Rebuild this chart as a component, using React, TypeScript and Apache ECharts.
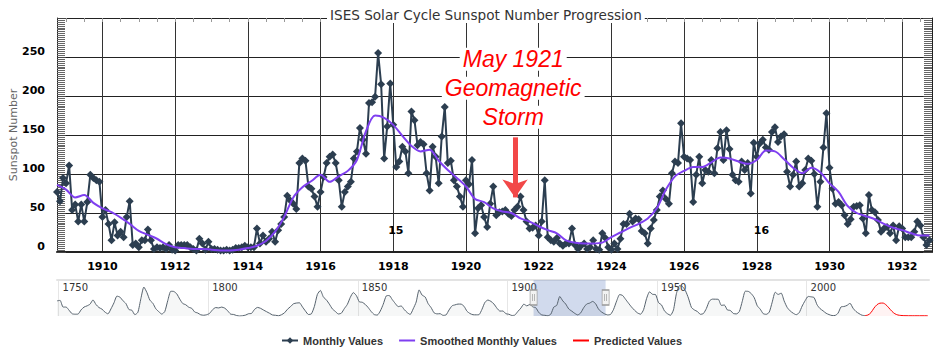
import React, { useEffect, useRef } from "react";
import * as echarts from "echarts";

// ---------- data ----------
const chartTitle = "ISES Solar Cycle Sunspot Number Progression";
const firstMonth = 1908.75; // October 1908, one value per month

// Monthly sunspot numbers, Oct 1908 .. Oct 1932
const monthlyValues = [
  77, 65, 95,
  88, 111, 54, 61, 39, 61, 39, 64, 99, 95, 92, 90,
  45, 54, 36, 15, 38, 21, 26, 19, 45, 65, 9, 11,
  6, 15, 15, 29, 15, 4, 6, 5, 6, 4, 9, 3,
  2, 9, 9, 9, 9, 6, 4, 2, 17, 11, 3, 13,
  4, 4, 3, 2, 2, 3, 2, 3, 5, 5, 6, 8,
  6, 6, 6, 30, 11, 21, 13, 17, 26, 13, 28, 36,
  45, 72, 66, 62, 55, 114, 120, 117, 84, 81, 71, 58,
  77, 96, 114, 122, 125, 114, 92, 58, 77, 84, 90, 120,
  129, 159, 144, 126, 191, 192, 199, 255, 215, 120, 161, 216,
  163, 109, 116, 135, 129, 101, 180, 169, 137, 141, 138, 101,
  79, 135, 122, 88, 148, 186, 114, 117, 92, 84, 71, 58,
  92, 87, 118, 24, 56, 60, 45, 32, 62, 84, 47, 51,
  52, 54, 49, 46, 54, 58, 71, 54, 39, 30, 31, 34,
  21, 39, 92, 19, 15, 13, 18, 11, 8, 11, 11, 30,
  9, 4, 8, 11, 4, 6, 15, 4, 3, 24, 18, 6,
  3, 11, 4, 17, 36, 36, 49, 39, 43, 42, 27, 24,
  11, 30, 41, 54, 71, 79, 68, 62, 101, 116, 114, 165,
  122, 120, 118, 64, 99, 122, 88, 105, 103, 118, 101, 133,
  154, 118, 156, 132, 99, 92, 90, 116, 105, 114, 75, 140,
  122, 139, 144, 134, 131, 154, 160, 141, 148, 151, 103, 84,
  99, 116, 84, 88, 105, 120, 117, 100, 58, 90, 134, 178,
  108, 81, 62, 64, 60, 47, 36, 42, 58, 59, 60, 43,
  24, 73, 54, 51, 41, 26, 30, 32, 24, 34, 15, 33,
  30, 19, 19, 19, 26, 39, 34, 19, 9, 15,
];

// Smoothed monthly values, read every 3 months from Oct 1908
const smoothedValues = [
  86,
  80, 70, 73, 63,
  56, 51, 44, 36,
  27, 22, 17, 10,
  6, 5, 4, 4,
  3, 2, 2, 3,
  5, 8, 14, 26,
  45, 70, 83, 91,
  99, 90, 97, 104,
  118, 155, 175, 172,
  163, 149, 136, 129,
  131, 117, 105, 95,
  84, 68, 64, 56,
  52, 50, 43, 39,
  33, 28, 24, 15,
  12, 11, 11, 12,
  19, 25, 31, 36,
  43, 56, 80, 97,
  104, 109, 109, 115,
  121, 120, 116, 113,
  118, 130, 129, 119,
  108, 101, 108, 102,
  88, 77, 59, 50,
  46, 42, 36, 31,
  28, 24, 21, 21,
];

const xTickYears = [1910, 1912, 1914, 1916, 1918, 1920, 1922, 1924, 1926, 1928, 1930, 1932];
const cycleLabels = [
  { text: "15", year: 1918.07, value: 28 },
  { text: "16", year: 1928.13, value: 28 },
];
const stormDate = 1921.35;
const stormText = ["May 1921", "Geomagnetic", "Storm"];

// Navigator: yearly sunspot numbers 1749..2019
const navFirstYear = 1749;
const navYearly = [
  134.7, 139.0, 79.5, 79.7, 51.2, 20.3, 16.0, 17.0, 54.0, 79.3, 90.0,
  104.8, 143.2, 102.0, 75.2, 60.7, 34.8, 19.0, 63.0, 116.3, 176.8,
  168.0, 136.0, 110.8, 58.0, 51.0, 11.7, 33.0, 154.2, 257.3, 209.8,
  141.3, 113.5, 64.2, 38.0, 17.0, 40.2, 138.2, 220.0, 218.2, 196.8,
  149.8, 111.0, 100.0, 78.2, 68.3, 35.5, 26.7, 10.7, 6.8, 11.3,
  24.2, 56.7, 75.0, 71.8, 79.2, 70.3, 46.8, 16.8, 13.5, 4.2,
  0.0, 2.3, 8.3, 20.3, 23.2, 59.0, 76.3, 68.3, 52.9, 38.5,
  24.2, 9.2, 6.3, 2.2, 11.4, 28.2, 59.9, 83.0, 108.5, 115.2,
  117.4, 80.8, 44.3, 13.4, 19.5, 85.8, 192.7, 227.3, 168.7, 143.0,
  105.5, 63.3, 40.3, 18.1, 25.1, 65.8, 102.7, 166.3, 208.3, 182.5,
  126.3, 122.0, 102.7, 74.1, 39.0, 12.7, 8.2, 43.4, 104.4, 178.3,
  182.2, 146.6, 112.1, 83.5, 89.2, 57.8, 30.7, 13.9, 62.8, 123.6,
  232.0, 185.3, 169.2, 110.1, 74.5, 28.3, 18.9, 20.7, 5.7, 10.0,
  53.7, 90.5, 99.0, 106.1, 105.8, 86.3, 42.4, 21.8, 11.2, 10.4,
  11.8, 59.5, 121.7, 142.0, 130.0, 106.6, 69.4, 43.8, 44.4, 20.2,
  15.7, 4.6, 8.5, 40.8, 70.1, 105.5, 90.1, 102.8, 80.9, 73.2,
  30.9, 9.5, 6.0, 2.4, 16.1, 79.0, 95.0, 173.6, 134.6, 105.7,
  62.7, 43.5, 23.7, 9.7, 27.9, 74.0, 106.5, 114.7, 129.7, 108.2,
  59.4, 35.1, 18.6, 9.2, 14.6, 60.2, 132.8, 190.6, 182.6, 148.0,
  113.0, 79.2, 50.8, 27.1, 16.1, 55.3, 154.3, 214.7, 193.0, 190.7,
  118.9, 98.3, 45.0, 20.1, 6.6, 54.2, 200.7, 269.3, 261.7, 225.1,
  159.0, 76.4, 53.4, 39.9, 15.0, 22.0, 66.8, 132.9, 150.0, 149.4,
  148.0, 94.4, 97.6, 54.1, 49.2, 22.5, 18.4, 39.3, 131.0, 220.1,
  218.9, 198.9, 162.4, 91.0, 60.5, 20.6, 14.8, 33.9, 123.0, 211.1,
  191.8, 203.3, 133.0, 76.1, 44.9, 25.1, 11.6, 28.9, 88.3, 136.3,
  173.9, 170.4, 163.6, 99.3, 65.3, 45.8, 24.7, 12.6, 4.2, 4.8,
  24.9, 80.8, 84.5, 94.0, 113.3, 69.8, 39.8, 21.7, 7.0, 3.6,
];
const predictedYears = [2019.5, 2020.5, 2021.5, 2022.5, 2023.5, 2024.5, 2025.5, 2026.5, 2027.5, 2028.5, 2029.5, 2030.5, 2031.5, 2032.5, 2035.5, 2040.5];
const predictedValues = [3.6, 9, 30, 70, 100, 114, 115, 100, 72, 42, 20, 9, 5, 3, 2, 2];
const navLabelYears = [1750, 1800, 1850, 1900, 1950, 2000];

// ---------- styling constants ----------
const MAIN_MIN = 1908.75;
const MAIN_MAX = 1932.82;
const NAV_MIN = 1749.47;
const NAV_MAX = 2040.9;
const MONTHLY_COLOR = "#2c3e50";
const SMOOTH_COLOR = "#7f3ff0";
const PRED_COLOR = "#ff0000";
const BAR_ICON = "path://M0,0 L16,0 L16,2 L0,2 Z";

export default function App() {
  const ref = useRef<HTMLDivElement>(null);

  useEffect(() => {
    if (!ref.current) return;
    const chart = echarts.init(ref.current, null, { renderer: "svg" });

    const monthlyData = monthlyValues.map((v, i) => [firstMonth + i / 12, v]);
    const smoothedData = smoothedValues.map((v, i) => [firstMonth + i * 0.25, v]);
    const navData = navYearly.map((v, i) => [navFirstYear + i + 0.5, v]);
    const predData = predictedYears.map((y, i) => [y, predictedValues[i]]);
    const halfYearTicks: number[] = [];
    for (let y = 1909; y <= 1932.5; y += 0.5) halfYearTicks.push(y);

    const boldLabel = {
      fontFamily: "DejaVu Sans",
      fontWeight: "bold" as const,
      fontSize: 11,
      color: "#000",
    };

    chart.setOption({
      animation: false,
      title: {
        text: chartTitle,
        left: 327,
        top: 7,
        padding: [1, 3],
        backgroundColor: "#fff",
        textStyle: { fontFamily: "DejaVu Sans", fontSize: 13.6, fontWeight: "normal", color: "#333" },
      },
      legend: {
        left: 276,
        top: 330,
        itemWidth: 16,
        itemHeight: 8,
        itemGap: 16,
        data: [
          { name: "Monthly Values" },
          { name: "Smoothed Monthly Values", icon: BAR_ICON },
          { name: "Predicted Values", icon: BAR_ICON },
        ],
        textStyle: { fontFamily: "Liberation Sans", fontWeight: "bold", fontSize: 11, color: "#333" },
      },
      grid: [
        { left: 57, right: 13, top: 18, height: 234, outerBoundsMode: "none", containLabel: false },
        { left: 57, right: 16, top: 280, height: 36, outerBoundsMode: "none", containLabel: false },
      ],
      xAxis: [
        {
          gridIndex: 0,
          type: "value",
          min: MAIN_MIN,
          max: MAIN_MAX,
          axisLine: { show: true, onZero: false, lineStyle: { color: "#222", width: 2 } },
          axisTick: { show: false, customValues: xTickYears },
          axisLabel: { ...boldLabel, customValues: xTickYears, margin: 9, formatter: (v: number) => String(v) },
          splitLine: { show: true, lineStyle: { color: "#333", width: 1 } },
        },
        {
          gridIndex: 1,
          type: "value",
          min: NAV_MIN,
          max: NAV_MAX,
          position: "top",
          axisLine: { show: true, onZero: false, lineStyle: { color: "#e3e3e3", width: 2 } },
          axisTick: { show: false, customValues: navLabelYears },
          axisLabel: {
            customValues: navLabelYears,
            inside: true,
            align: "left",
            verticalAlign: "top",
            margin: 2,
            padding: [0, 0, 0, 4],
            fontFamily: "DejaVu Sans",
            fontSize: 10,
            color: "#333",
            formatter: (v: number) => String(v),
          },
          splitLine: { show: true, lineStyle: { color: "#e6e6e6", width: 1 } },
        },
        {
          gridIndex: 0,
          type: "value",
          min: MAIN_MIN,
          max: MAIN_MAX,
          axisLine: { show: false, onZero: false },
          axisTick: { show: true, inside: true, length: 4, customValues: halfYearTicks, lineStyle: { color: "#999" } },
          axisLabel: { show: false },
          splitLine: { show: false },
        },
      ],
      yAxis: [
        {
          gridIndex: 0,
          type: "value",
          min: 0,
          max: 300,
          interval: 50,
          name: "Sunspot Number",
          nameLocation: "middle",
          nameGap: 38,
          nameMoveOverlap: false,
          nameTextStyle: { fontFamily: "DejaVu Sans", fontSize: 11, color: "#666" },
          axisLine: { show: true, lineStyle: { color: "#222", width: 1 } },
          axisTick: { show: true, inside: true, length: 9, lineStyle: { color: "#444" } },
          minorTick: { show: true, splitNumber: 20, length: 8, lineStyle: { color: "#666" } },
          axisLabel: {
            ...boldLabel,
            margin: 12,
            verticalAlign: "bottom",
            formatter: (v: number) => (v === 300 ? "" : String(v)),
          },
          splitLine: { show: true, lineStyle: { color: "#222", width: 1 } },
        },
        {
          gridIndex: 0,
          type: "value",
          position: "right",
          min: 0,
          max: 300,
          interval: 50,
          axisLine: { show: true, lineStyle: { color: "#222", width: 1 } },
          axisTick: { show: true, inside: true, length: 9, lineStyle: { color: "#444" } },
          minorTick: { show: true, splitNumber: 20, length: 8, lineStyle: { color: "#666" } },
          axisLabel: { show: false },
          splitLine: { show: false },
        },
        { gridIndex: 1, type: "value", min: 0, max: 320, show: false },
      ],
      series: [
        {
          name: "Monthly Values",
          type: "line",
          xAxisIndex: 0,
          yAxisIndex: 0,
          data: monthlyData,
          symbol: "diamond",
          symbolSize: 8,
          z: 3,
          lineStyle: { color: MONTHLY_COLOR, width: 2 },
          itemStyle: { color: MONTHLY_COLOR },
          markLine: {
            silent: true,
            symbol: ["none", "arrow"],
            symbolSize: [19, 18],
            label: { show: false },
            lineStyle: { color: "#f24848", width: 5, type: "solid" },
            data: [[{ coord: [stormDate, 147] }, { coord: [stormDate, 70] }]],
          },
          markPoint: {
            silent: true,
            symbol: "circle",
            symbolSize: 0,
            data: [
              {
                coord: [1921.3, 210],
                label: {
                  show: true,
                  position: "inside",
                  formatter: stormText.map((t) => `{a|${t}}`).join("\n"),
                  rich: {
                    a: {
                      fontFamily: "Liberation Sans",
                      fontStyle: "italic",
                      fontSize: 23,
                      color: "#ff0000",
                      backgroundColor: "#fff",
                      lineHeight: 29,
                      padding: [0, 3],
                    },
                  },
                },
              },
              ...cycleLabels.map((c) => ({
                coord: [c.year, c.value],
                label: { show: true, position: "inside", formatter: c.text, ...boldLabel },
              })),
            ],
          },
        },
        {
          name: "Smoothed Monthly Values",
          type: "line",
          xAxisIndex: 0,
          yAxisIndex: 0,
          data: smoothedData,
          symbol: "none",
          smooth: 0.3,
          z: 4,
          lineStyle: { color: SMOOTH_COLOR, width: 2 },
          itemStyle: { color: SMOOTH_COLOR },
        },
        {
          name: "Navigator",
          type: "line",
          xAxisIndex: 1,
          yAxisIndex: 2,
          data: navData,
          symbol: "none",
          smooth: 0.2,
          lineStyle: { color: "#56626d", width: 1 },
          itemStyle: { color: "#56626d" },
          areaStyle: { color: "rgba(44,62,80,0.06)" },
          markArea: {
            silent: true,
            itemStyle: { color: "rgba(102,133,194,0.3)" },
            data: [[{ xAxis: MAIN_MIN }, { xAxis: MAIN_MAX }]],
          },
          markPoint: {
            silent: true,
            symbol: "path://M0,0 L7,0 L7,15 L0,15 Z M2.5,4 L2.5,11 M4.5,4 L4.5,11",
            symbolSize: [7, 15],
            itemStyle: { color: "#f2f2f2", borderColor: "#999", borderWidth: 1 },
            label: { show: false },
            data: [{ coord: [MAIN_MIN, 164] }, { coord: [MAIN_MAX, 164] }],
          },
        },
        {
          name: "Predicted Values",
          type: "line",
          xAxisIndex: 1,
          yAxisIndex: 2,
          data: predData,
          symbol: "none",
          smooth: 0.3,
          lineStyle: { color: PRED_COLOR, width: 1 },
          itemStyle: { color: PRED_COLOR },
          areaStyle: { color: "rgba(255,0,0,0.07)" },
        },
      ],
    });

    return () => chart.dispose();
  }, []);

  return (
    <div
      ref={ref}
      style={{ position: "fixed", left: 0, top: 0, width: 945, height: 350, background: "#fff" }}
    />
  );
}
